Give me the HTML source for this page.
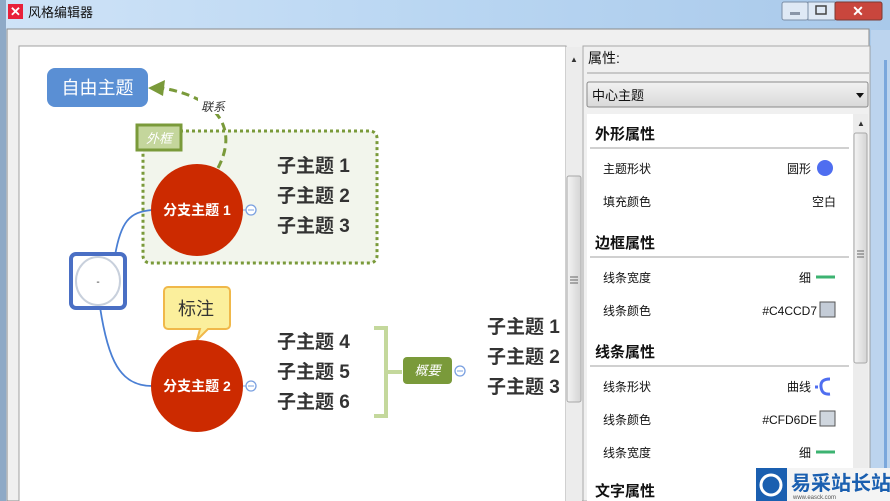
<!DOCTYPE html>
<html><head><meta charset="utf-8"><style>
html,body{margin:0;padding:0;width:890px;height:501px;overflow:hidden;background:#f0f0f0}
svg{display:block}
text{font-family:"Liberation Sans","Noto Sans CJK SC",sans-serif}
</style></head><body>
<svg width="890" height="501" viewBox="0 0 890 501" xmlns="http://www.w3.org/2000/svg">
<defs>
<linearGradient id="tb" x1="0" y1="0" x2="1" y2="0"><stop offset="0" stop-color="#cfe3f7"/><stop offset="0.5" stop-color="#b9d6f2"/><stop offset="1" stop-color="#a9c9ea"/></linearGradient>
<linearGradient id="dd" x1="0" y1="0" x2="0" y2="1"><stop offset="0" stop-color="#f2f2f2"/><stop offset="1" stop-color="#d9d9d9"/></linearGradient>
<linearGradient id="sb" x1="0" y1="0" x2="1" y2="0"><stop offset="0" stop-color="#f4f4f4"/><stop offset="1" stop-color="#d4d4d4"/></linearGradient>
</defs>
<rect x="0" y="0" width="890" height="501" fill="url(#tb)"/>
<rect x="0" y="0" width="6" height="501" fill="#8ea9c6"/>
<rect x="7" y="29" width="862" height="472" fill="#f0f0f0" stroke="#8a8a8a"/>
<rect x="871" y="30" width="19" height="471" fill="#bcd4ee"/>
<rect x="884" y="60" width="3" height="441" fill="#7aa7dc"/>
<rect x="8" y="4" width="15" height="15" fill="#e8203a"/>
<text x="15.5" y="16" font-size="13" fill="#fff" text-anchor="middle" font-weight="bold">✕</text>
<text x="28" y="17" font-size="13" fill="#111">风格编辑器</text>
<rect x="782" y="2" width="26" height="18" rx="2" fill="#dfe9f5" stroke="#7b8ea6"/>
<rect x="790" y="12" width="10" height="3" fill="#8a96a8"/>
<rect x="808" y="2" width="27" height="18" fill="#dfe9f5" stroke="#7b8ea6"/>
<rect x="816" y="6" width="10" height="8" fill="none" stroke="#444" stroke-width="1.5"/>
<rect x="835" y="2" width="47" height="18" rx="2" fill="#c9463d" stroke="#7b3a34"/>
<text x="858" y="16" font-size="14" fill="#fff" text-anchor="middle" font-weight="bold">✕</text>

<rect x="19" y="46" width="547" height="460" fill="#fff" stroke="#a0a0a0"/>
<rect x="566" y="47" width="16" height="454" fill="#ececec"/>
<text x="574" y="62" font-size="8" fill="#333" text-anchor="middle">▲</text>
<rect x="567" y="176" width="14" height="226" rx="2" fill="url(#sb)" stroke="#a8a8a8"/>
<path d="M570 277h8M570 280h8M570 283h8" stroke="#666"/>

<rect x="143" y="131" width="234" height="132" rx="7" fill="#f2f5ec" stroke="#7a9a3a" stroke-width="3" stroke-dasharray="3,3"/>
<rect x="137" y="125" width="44" height="25" fill="#c4d69c" stroke="#7a9a3a" stroke-width="3"/>
<text x="159" y="143" font-size="13" fill="#fff" text-anchor="middle" font-style="italic">外框</text>

<rect x="47" y="68" width="101" height="39" rx="8" fill="#5a8fd4"/>
<text x="97.5" y="94" font-size="18" fill="#fff" text-anchor="middle">自由主题</text>
<path d="M218 168 C238 130 220 98 162 88" fill="none" stroke="#7a9a3a" stroke-width="3" stroke-dasharray="8,5"/>
<polygon points="148,88 165,80 163,96" fill="#7a9a3a"/>
<rect x="198" y="98" width="30" height="16" fill="#fff"/>
<text x="213" y="111" font-size="12" fill="#333" text-anchor="middle" font-style="italic">联系</text>

<path d="M114 262 C120 220 130 212 152 210" fill="none" stroke="#4a7fd4" stroke-width="1.8"/>
<path d="M100 307 C108 360 120 386 152 386" fill="none" stroke="#4a7fd4" stroke-width="1.8"/>
<rect x="71" y="254" width="54" height="54" rx="5" fill="#fff" stroke="#4a6fc4" stroke-width="4"/>
<ellipse cx="98" cy="281" rx="22" ry="24" fill="#fff" stroke="#c8d0dc" stroke-width="2"/>
<text x="98" y="285" font-size="10" fill="#333" text-anchor="middle">-</text>

<circle cx="197" cy="210" r="46" fill="#cc2a00"/>
<text x="197" y="215" font-size="14" fill="#fff" text-anchor="middle" font-weight="bold">分支主题 1</text>
<circle cx="251" cy="210" r="5" fill="#fff" stroke="#7aa0e0" stroke-width="1.3"/>
<path d="M248 210h6M243 210h3" stroke="#7aa0e0"/>
<g font-size="19" fill="#333" font-weight="bold">
<text x="277" y="172">子主题 1</text>
<text x="277" y="202">子主题 2</text>
<text x="277" y="232">子主题 3</text>
</g>

<path d="M168 287 H226 a4 4 0 0 1 4 4 V325 a4 4 0 0 1 -4 4 H208 L197 340 L200 329 H168 a4 4 0 0 1 -4 -4 V291 a4 4 0 0 1 4 -4Z" fill="#fbef9c" stroke="#f0b84a" stroke-width="2"/>
<text x="196" y="315" font-size="18" fill="#333" text-anchor="middle">标注</text>

<ellipse cx="197" cy="386" rx="46" ry="46" fill="#cc2a00"/>
<text x="197" y="391" font-size="14" fill="#fff" text-anchor="middle" font-weight="bold">分支主题 2</text>
<circle cx="251" cy="386" r="5" fill="#fff" stroke="#7aa0e0" stroke-width="1.3"/>
<path d="M248 386h6M243 386h3" stroke="#7aa0e0"/>
<g font-size="19" fill="#333" font-weight="bold">
<text x="277" y="348">子主题 4</text>
<text x="277" y="378">子主题 5</text>
<text x="277" y="408">子主题 6</text>
</g>
<path d="M374 328 H386 V416 H374 M386 372 H402" fill="none" stroke="#c4d89c" stroke-width="4"/>
<rect x="403" y="357" width="49" height="27" rx="4" fill="#7a9a3a"/>
<text x="427.5" y="375" font-size="13" fill="#fff" text-anchor="middle" font-style="italic">概要</text>
<circle cx="460" cy="371" r="5" fill="#fff" stroke="#7aa0e0" stroke-width="1.3"/>
<path d="M457 371h6" stroke="#7aa0e0"/>
<g font-size="19" fill="#333" font-weight="bold">
<text x="487" y="333">子主题 1</text>
<text x="487" y="363">子主题 2</text>
<text x="487" y="393">子主题 3</text>
</g>

<rect x="583" y="46" width="287" height="455" fill="#f0f0f0" stroke="#a8a8a8"/>
<text x="588" y="63" font-size="14" fill="#111">属性:</text>
<line x1="587" y1="73" x2="869" y2="73" stroke="#a0a0a0"/>
<rect x="587" y="82" width="281" height="25" rx="2" fill="url(#dd)" stroke="#8a8a8a"/>
<text x="592" y="100" font-size="13" fill="#111">中心主题</text>
<polygon points="856,93 864,93 860,98" fill="#111"/>
<rect x="587" y="114" width="266" height="387" fill="#fff"/>
<rect x="853" y="114" width="15" height="387" fill="#ececec"/>
<text x="861" y="126" font-size="8" fill="#333" text-anchor="middle">▲</text>
<rect x="854" y="133" width="13" height="230" rx="2" fill="url(#sb)" stroke="#a8a8a8"/>
<path d="M857 251h7M857 254h7M857 257h7" stroke="#666"/>
<g font-size="15" fill="#111" font-weight="bold">
<text x="595" y="139">外形属性</text>
<text x="595" y="248">边框属性</text>
<text x="595" y="357">线条属性</text>
<text x="595" y="496">文字属性</text>
</g>
<g stroke="#a0a0a0"><line x1="590" y1="148" x2="849" y2="148"/><line x1="590" y1="257" x2="849" y2="257"/><line x1="590" y1="366" x2="849" y2="366"/></g>
<g font-size="12" fill="#111">
<text x="603" y="173">主题形状</text>
<text x="603" y="206">填充颜色</text>
<text x="603" y="282">线条宽度</text>
<text x="603" y="315">线条颜色</text>
<text x="603" y="391">线条形状</text>
<text x="603" y="424">线条颜色</text>
<text x="603" y="457">线条宽度</text>
</g>
<g font-size="12" fill="#111" text-anchor="end">
<text x="811" y="173">圆形</text>
<text x="836" y="206">空白</text>
<text x="811" y="282">细</text>
<text x="817" y="315">#C4CCD7</text>
<text x="811" y="391">曲线</text>
<text x="817" y="424">#CFD6DE</text>
<text x="811" y="457">细</text>
</g>
<circle cx="825" cy="168" r="8" fill="#4f6ef0"/>
<line x1="816" y1="277" x2="835" y2="277" stroke="#3cb371" stroke-width="3"/>
<line x1="816" y1="452" x2="835" y2="452" stroke="#3cb371" stroke-width="3"/>
<rect x="820" y="302" width="15" height="15" fill="#c4ccd7" stroke="#555"/>
<rect x="820" y="411" width="15" height="15" fill="#cfd6de" stroke="#555"/>
<path d="M830 379 Q820 379 821 387 Q822 395 830 394 M818 387h-3" fill="none" stroke="#4f6ef0" stroke-width="3"/>

<rect x="756" y="468" width="134" height="33" fill="#f4f4f4"/>
<rect x="756" y="468" width="31" height="33" fill="#1a5fb0"/>
<circle cx="771" cy="485" r="10" fill="none" stroke="#fff" stroke-width="3"/>
<text x="791" y="490" font-size="20" fill="#1a5fb0" font-weight="bold">易采站长站</text>
<text x="793" y="499" font-size="6" fill="#555">www.easck.com</text>
</svg>
</body></html>
